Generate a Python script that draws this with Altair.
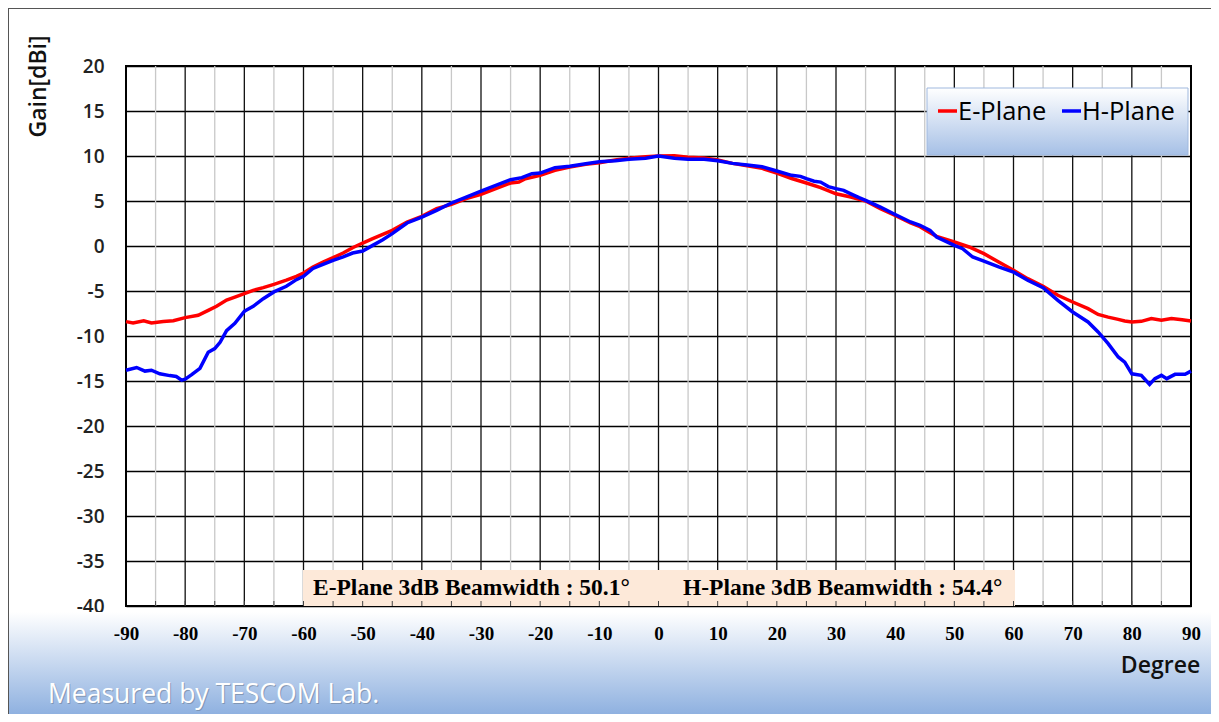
import altair as alt
import pandas as pd

# ---------------- data ----------------
series_names = ["E-Plane", "H-Plane"]
series_colors = ["#ff0000", "#0000ff"]

e_deg = [-90, -88.8, -87, -85.7, -83.7, -82, -80, -77.8, -76.1, -74.7, -73, -71.6, -70,
         -68.5, -66.8, -65, -62.9, -61.2, -60, -58.4, -56.7, -55, -53.3, -51.7, -50,
         -48.3, -46.6, -45, -42.5, -40, -37.5, -35, -32.5, -30, -27.5, -25, -23.6, -22.5,
         -20, -17.5, -15, -12.3, -10, -7.3, -5, -2.2, 0, 2.7, 5, 7.7, 10, 12.5, 15, 17.5,
         20, 22.5, 25, 27.4, 30, 32.5, 35, 37.5, 40, 42.6, 44.2, 45.9, 47, 50, 52.5, 55,
         57.5, 60, 62.4, 65, 67.5, 70, 72.6, 74.3, 76, 77.7, 78.8, 80, 81.6, 83.3, 85,
         86.7, 88.5, 90]
e_gain = [-8.4, -8.55, -8.3, -8.55, -8.4, -8.3, -7.96, -7.7, -7.15, -6.7, -6.0, -5.67, -5.3,
          -4.93, -4.63, -4.26, -3.8, -3.37, -3.0, -2.33, -1.78, -1.3, -0.78, -0.19, 0.33,
          0.81, 1.3, 1.74, 2.67, 3.3, 4.15, 4.63, 5.26, 5.74, 6.37, 7.0, 7.1, 7.48,
          7.85, 8.4, 8.78, 9.07, 9.26, 9.55, 9.74, 9.93, 10.0, 10.04, 9.85, 9.78, 9.55, 9.18,
          8.92, 8.63, 8.1, 7.5, 7.0, 6.48, 5.8, 5.44, 5.0, 4.15, 3.4, 2.56, 2.15, 1.48, 1.07,
          0.44, -0.11, -0.85, -1.78, -2.7, -3.63, -4.48, -5.48, -6.22, -6.96, -7.6, -7.9,
          -8.15, -8.33, -8.44, -8.37, -8.07, -8.26, -8.07, -8.19, -8.33]

h_deg = [-90, -88.2, -86.8, -85.7, -84.3, -82.6, -81.5, -80.6, -80, -78.9, -77.5, -76.1, -75,
         -74.1, -73, -71.6, -70, -68.5, -66.8, -65, -62.9, -61.2, -60, -58.4, -56.7, -55,
         -53.3, -51.7, -50, -48.3, -46.6, -45, -42.5, -40, -37.5, -35, -32.5, -30, -27.5,
         -25, -23.1, -21.4, -20, -17.5, -15, -12.3, -10, -7.3, -5, -2.2, 0, 2.7, 5, 7.7, 10,
         12.5, 15, 17.5, 20, 22.5, 24, 25, 26.3, 27.4, 28.7, 30, 31.3, 32.5, 33.9, 35, 37.5,
         40, 42.6, 44.2, 45.9, 47, 50, 51.4, 53.1, 55, 57.5, 60, 62.4, 65, 67.5, 70, 72.6,
         74.3, 76, 77.7, 78.8, 80, 81.6, 83, 83.9, 85, 85.9, 87.3, 89, 90]
h_gain = [-13.81, -13.5, -13.9, -13.8, -14.2, -14.4, -14.5, -14.9, -14.8, -14.3, -13.6, -11.8,
          -11.4, -10.7, -9.4, -8.6, -7.26, -6.7, -5.85, -5.1, -4.48, -3.74, -3.37, -2.5,
          -2.04, -1.6, -1.22, -0.78, -0.56, 0.07, 0.7, 1.37, 2.56, 3.2, 3.96, 4.78, 5.44,
          6.1, 6.74, 7.37, 7.6, 8.04, 8.1, 8.7, 8.85, 9.15, 9.37, 9.48, 9.63, 9.74, 10.0,
          9.74, 9.63, 9.63, 9.48, 9.18, 9.0, 8.8, 8.33, 7.85, 7.74, 7.48, 7.2, 7.1, 6.6,
          6.37, 6.18, 5.8, 5.37, 5.07, 4.33, 3.5, 2.67, 2.3, 1.74, 1.0, 0.07, -0.3, -1.22,
          -1.67, -2.33, -2.89, -3.81, -4.63, -6.04, -7.33, -8.44, -9.55, -10.85, -12.33,
          -12.9, -14.2, -14.37, -15.37, -14.74, -14.37, -14.74, -14.26, -14.26, -13.9]

x_ticks = list(range(-90, 91, 10))
x_minor = list(range(-85, 90, 5))
y_ticks = list(range(-40, 21, 5))

beam_texts = ["E-Plane 3dB Beamwidth : 50.1°", "H-Plane 3dB Beamwidth : 54.4°"]
credit = "Measured by TESCOM Lab."

# ---------------- tables ----------------
lines_df = pd.concat([
    pd.DataFrame({"deg": e_deg, "gain": e_gain, "series": series_names[0]}),
    pd.DataFrame({"deg": h_deg, "gain": h_gain, "series": series_names[1]}),
])
minor_df = pd.DataFrame({"deg": x_minor})
one = pd.DataFrame({"a": [0]})

W, H = 1065, 540
xs = alt.Scale(domain=[-90, 90], nice=False, zero=False)
ys = alt.Scale(domain=[-40, 20], nice=False, zero=False)
cs = alt.Scale(domain=series_names, range=series_colors)

x_axis = alt.Axis(values=x_ticks, grid=False, ticks=False, tickSize=0, domain=False,
                  labelExpr="'' + datum.value",
                  labelFont="Liberation Serif", labelFontWeight="bold", labelFontSize=19,
                  labelColor="#000", labelPadding=18, labelFlush=False,
                  title="Degree", titleFont="Open Sans", titleFontSize=23,
                  titleFontWeight=600, titleColor="#111", titleX=1034, titleY=59,
                  titleAlign="center", titleBaseline="middle", zindex=1)
y_axis = alt.Axis(values=y_ticks, grid=True, gridColor="#000", gridWidth=1.3,
                  ticks=False, tickSize=0, domain=False,
                  labelExpr="'' + datum.value",
                  labelFont="Open Sans", labelFontSize=19, labelFontWeight=600,
                  labelColor="#222", labelPadding=22,
                  title="Gain[dBi]", titleFont="Open Sans", titleFontSize=23,
                  titleFontWeight=600, titleColor="#111", titleAngle=270,
                  titleX=-88, titleY=20, titleAlign="center", titleBaseline="middle")

bg_grad = alt.Gradient(gradient="linear", x1=0, x2=0, y1=0, y2=1,
                       stops=[alt.GradientStop(color="#ffffff", offset=0),
                              alt.GradientStop(color="#8fb1e0", offset=1)])
legend_grad = alt.Gradient(gradient="linear", x1=0, x2=0, y1=0, y2=1,
                           stops=[alt.GradientStop(color="#ffffff", offset=0),
                                  alt.GradientStop(color="#a6c0e6", offset=1)])

layers = []

layers.append(alt.Chart(one).mark_rect(fill=bg_grad).encode(
    x=alt.value(-118), x2=alt.value(1085), y=alt.value(546), y2=alt.value(648)))
layers.append(alt.Chart(one).mark_rule(color="#555", strokeWidth=1).encode(
    x=alt.value(-117.5), y=alt.value(-58), y2=alt.value(648)))
layers.append(alt.Chart(one).mark_rule(color="#555", strokeWidth=1).encode(
    x=alt.value(-118), x2=alt.value(1085), y=alt.value(-57.5)))

# grid (vertical rules from tick values), plus y axis with horizontal grid
layers.append(alt.Chart(minor_df).mark_rule(strokeWidth=1.3).encode(
    x=alt.X("deg:Q", scale=xs, axis=x_axis),
    color=alt.condition("datum.deg % 10 == 0", alt.value("#111"), alt.value("#c8c8c8"))))
layers.append(alt.Chart(lines_df).mark_point(opacity=0).encode(
    x=alt.X("deg:Q", scale=xs, axis=x_axis),
    y=alt.Y("gain:Q", scale=ys, axis=y_axis)))

# beamwidth annotation box
layers.append(alt.Chart(one).mark_rect(fill="#fde9d9").encode(
    x=alt.value(177), x2=alt.value(889), y=alt.value(504), y2=alt.value(540)))
layers.append(alt.Chart(minor_df).mark_rule(color="#444", strokeWidth=1).encode(
    x=alt.X("deg:Q", scale=xs, axis=x_axis), y=alt.value(535), y2=alt.value(540)))
for txt, px in zip(beam_texts, [187, 557]):
    layers.append(alt.Chart(pd.DataFrame({"t": [txt]})).mark_text(
        font="Liberation Serif", fontWeight="bold", fontSize=23.5, align="left",
        baseline="middle", color="#000").encode(
        x=alt.value(px), y=alt.value(522), text="t:N"))

# data lines
layers.append(alt.Chart(lines_df).mark_line(strokeWidth=3.5).encode(
    x=alt.X("deg:Q", scale=xs, axis=x_axis),
    y=alt.Y("gain:Q", scale=ys, axis=y_axis),
    color=alt.Color("series:N", scale=cs, legend=None),
    order="deg:Q"))

# manual legend
layers.append(alt.Chart(one).mark_rect(fill=legend_grad, stroke="#9fb8de", strokeWidth=1).encode(
    x=alt.value(801), x2=alt.value(1062), y=alt.value(22), y2=alt.value(89)))
for name, col, px in zip(series_names, series_colors, [812, 936]):
    layers.append(alt.Chart(one).mark_rule(strokeWidth=3.5, color=col).encode(
        x=alt.value(px), x2=alt.value(px + 19), y=alt.value(45)))
    layers.append(alt.Chart(pd.DataFrame({"t": [name]})).mark_text(
        font="Open Sans", fontSize=25.5, fontWeight=500, align="left", baseline="middle",
        color="#000").encode(x=alt.value(px + 20), y=alt.value(46), text="t:N"))

# credit
cdf = pd.DataFrame({"t": [credit]})
layers.append(alt.Chart(cdf).mark_text(
    font="Open Sans", fontSize=26.5, align="left", baseline="middle",
    color="#6f7f96", opacity=0.6).encode(x=alt.value(-77), y=alt.value(630), text="t:N"))
layers.append(alt.Chart(cdf).mark_text(
    font="Open Sans", fontSize=26.5, align="left", baseline="middle",
    color="#ffffff").encode(x=alt.value(-78), y=alt.value(629), text="t:N"))

chart = alt.layer(*layers).properties(
    width=W, height=H,
    autosize=alt.AutoSizeParams(type="none"),
    padding={"left": 118, "top": 58, "right": 20, "bottom": 108},
    background="#ffffff",
).configure_view(stroke="#000", strokeWidth=2)

chart.save("out.html", embed_options={"renderer": "svg", "actions": False})
